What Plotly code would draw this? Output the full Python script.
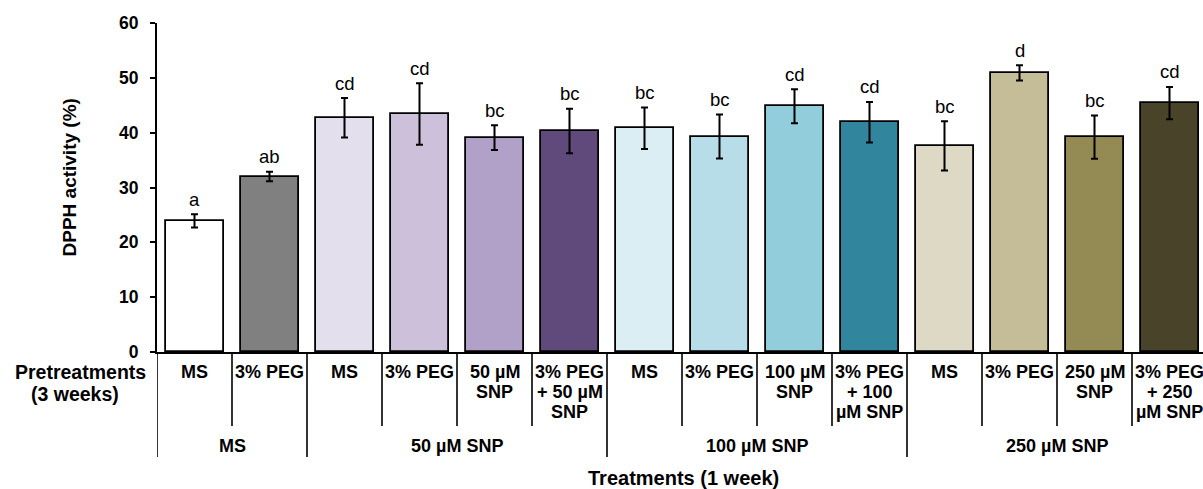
import plotly.graph_objects as go

# ---- data ----
pretreatments = [
    ["MS"], ["3% PEG"],
    ["MS"], ["3% PEG"], ["50 µM", "SNP"], ["3% PEG", "+ 50 µM", "SNP"],
    ["MS"], ["3% PEG"], ["100 µM", "SNP"], ["3% PEG", "+ 100", "µM SNP"],
    ["MS"], ["3% PEG"], ["250 µM", "SNP"], ["3% PEG", "+ 250", "µM SNP"],
]
treatment_groups = ["MS", "50 µM SNP", "100 µM SNP", "250 µM SNP"]
group_sizes = [2, 4, 4, 4]
dpph_values = [23.9, 32.0, 42.7, 43.4, 39.1, 40.3, 40.8, 39.3, 44.8, 41.9, 37.6, 50.9, 39.2, 45.4]
dpph_errors = [1.2, 0.85, 3.6, 5.6, 2.25, 4.05, 3.8, 4.0, 3.1, 3.7, 4.5, 1.4, 3.95, 2.95]
sig_letters = ["a", "ab", "cd", "cd", "bc", "bc", "bc", "bc", "cd", "cd", "bc", "d", "bc", "cd"]
bar_colors = ["#ffffff", "#808080", "#e4dfec", "#ccc0da", "#b1a0c7", "#604a7b",
              "#daeef3", "#b7dde8", "#92cddc", "#31859c",
              "#ddd9c4", "#c4bd97", "#948a54", "#494429"]
y_ticks = [0, 10, 20, 30, 40, 50, 60]

FONT = "Liberation Sans, Arial, sans-serif"
W, H = 1203, 489
L, T, B_PIX = 157, 23, 352
PLOT_H = B_PIX - T
PLOT_W = W - L
PITCH = 75.0


def py(ypix):
    return (B_PIX - ypix) / PLOT_H


def px(xpix):
    return (xpix - L) / PLOT_W


n = len(dpph_values)
xs = list(range(n))

fig = go.Figure()
fig.add_trace(go.Bar(
    x=xs, y=dpph_values, width=58 / PITCH,
    marker=dict(color=bar_colors, line=dict(color="black", width=1.8)),
    error_y=dict(type="data", array=dpph_errors, visible=True,
                 color="black", thickness=2, width=3.5),
    showlegend=False, hoverinfo="y",
))

ann = []
# significance letters
for i, (v, e, s) in enumerate(zip(dpph_values, dpph_errors, sig_letters)):
    ann.append(dict(x=i, y=v + e, xref="x", yref="y", text=s, showarrow=False,
                    yanchor="middle", yshift=15,
                    font=dict(family=FONT, size=18.5, color="black")))

# pretreatment labels (one annotation per line)
line_y = [372, 392, 412]
for i, lines in enumerate(pretreatments):
    for k, t in enumerate(lines):
        ann.append(dict(x=i, y=py(line_y[k]), xref="x", yref="paper", text=t,
                        showarrow=False, xanchor="center", yanchor="middle",
                        font=dict(family=FONT, size=18, color="black", weight="bold")))

# treatment group labels
shapes = []
start = 0
boundaries_group = [-0.5]
for g, size in zip(treatment_groups, group_sizes):
    center = start + (size - 1) / 2
    ann.append(dict(x=center, y=py(446), xref="x", yref="paper", text=g,
                    showarrow=False, xanchor="center", yanchor="middle",
                    font=dict(family=FONT, size=18, color="black", weight="bold")))
    start += size
    boundaries_group.append(start - 0.5)

for b in [i - 0.5 for i in range(n + 1)]:
    bottom = 457 if b in boundaries_group else 426
    shapes.append(dict(type="line", xref="x", yref="paper", x0=b, x1=b,
                       y0=0, y1=py(bottom), line=dict(color="black", width=1.6)))

# row header
ann.append(dict(x=px(80), y=py(372), xref="paper", yref="paper", text="Pretreatments",
                showarrow=False, xanchor="center", yanchor="middle", borderpad=0,
                font=dict(family=FONT, size=19.5, color="black", weight="bold")))
ann.append(dict(x=px(75), y=py(394), xref="paper", yref="paper", text="(3 weeks)",
                showarrow=False, xanchor="center", yanchor="middle", borderpad=0,
                font=dict(family=FONT, size=19.5, color="black", weight="bold")))
# axis titles
ann.append(dict(x=px(683), y=py(478), xref="paper", yref="paper", text="Treatments (1 week)",
                showarrow=False, xanchor="center", yanchor="middle",
                font=dict(family=FONT, size=20, color="black", weight="bold")))
ann.append(dict(x=px(69), y=py(177.5), xref="paper", yref="paper", text="DPPH activity (%)",
                showarrow=False, xanchor="center", yanchor="middle", textangle=-90,
                font=dict(family=FONT, size=19, color="black", weight="bold")))

fig.update_layout(
    width=W, height=H,
    margin=dict(l=L, r=0, t=T, b=H - B_PIX, pad=0),
    plot_bgcolor="white", paper_bgcolor="white",
    annotations=ann, shapes=shapes,
    bargap=0,
    xaxis=dict(range=[-0.5, -0.5 + PLOT_W / PITCH], showgrid=False, zeroline=False,
               showticklabels=False, ticks="", showline=True, linecolor="black",
               linewidth=2, fixedrange=True),
    yaxis=dict(range=[0, 60], tickvals=y_ticks, showgrid=False, zeroline=False,
               showline=True, linecolor="black", linewidth=2,
               ticks="outside", ticklen=5, tickwidth=2, tickcolor="black",
               ticklabelstandoff=8,
               tickfont=dict(family=FONT, size=17.5, color="black", weight="bold"),
               fixedrange=True),
)

fig.write_html("out.html")
